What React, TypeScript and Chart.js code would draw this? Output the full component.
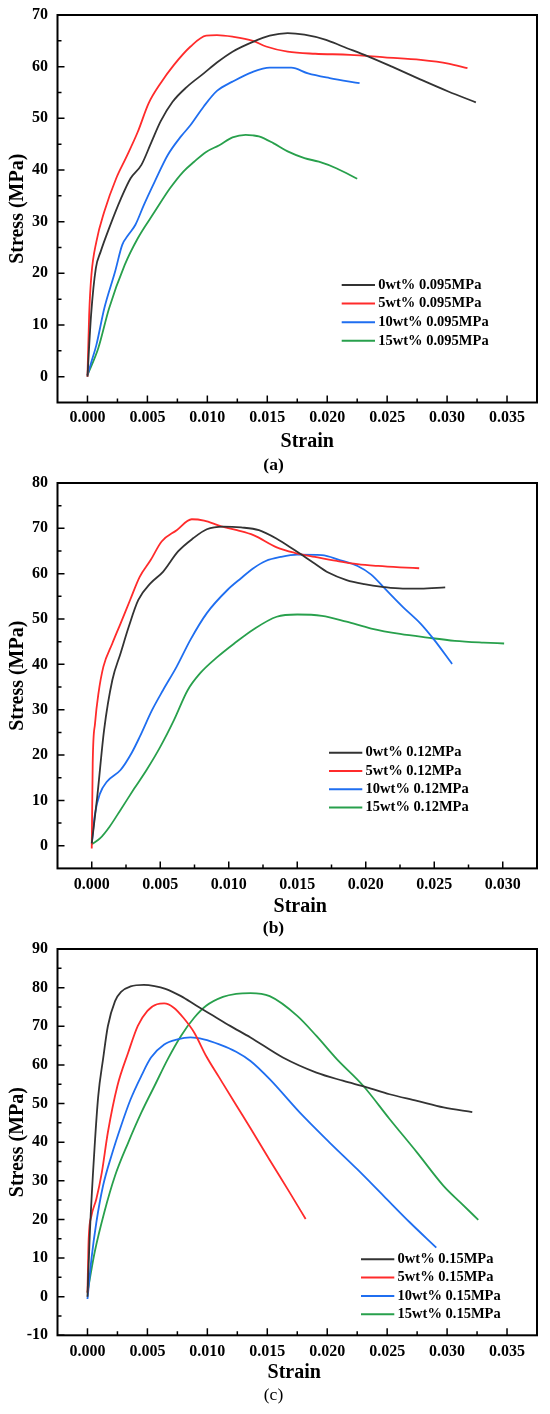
import { useEffect, useRef } from "react"
import Chart from "chart.js/auto"

// ---- data ----
const seriesColors = ["#333333", "#ff2b2b", "#1f6ef0", "#28a04c"]

const labelsA = ["0wt% 0.095MPa", "5wt% 0.095MPa", "10wt% 0.095MPa", "15wt% 0.095MPa"]
const labelsB = ["0wt% 0.12MPa", "5wt% 0.12MPa", "10wt% 0.12MPa", "15wt% 0.12MPa"]
const labelsC = ["0wt% 0.15MPa", "5wt% 0.15MPa", "10wt% 0.15MPa", "15wt% 0.15MPa"]

const strainTicksA = [0, 0.005, 0.01, 0.015, 0.02, 0.025, 0.03, 0.035]
const stressTicksA = [0, 10, 20, 30, 40, 50, 60, 70]
const strainTicksB = [0, 0.005, 0.01, 0.015, 0.02, 0.025, 0.03]
const stressTicksB = [0, 10, 20, 30, 40, 50, 60, 70, 80]
const strainTicksC = [0, 0.005, 0.01, 0.015, 0.02, 0.025, 0.03, 0.035]
const stressTicksC = [-10, 0, 10, 20, 30, 40, 50, 60, 70, 80, 90]

// (a) 0.095 MPa
const strainA0 = [0, 0.0003, 0.0007, 0.0011, 0.0018, 0.0028, 0.0036, 0.0045, 0.0053, 0.0061, 0.0071, 0.0083, 0.0097, 0.0108, 0.0121, 0.0138, 0.0152, 0.0167, 0.0181, 0.0199, 0.0213, 0.0234, 0.0254, 0.0278, 0.0301, 0.0324]
const stressA0 = [0, 11.9, 21, 24.2, 28.7, 34.5, 38.4, 41, 45.2, 49.4, 53.2, 56.1, 58.7, 60.8, 62.9, 64.8, 66, 66.5, 66.2, 65.2, 63.9, 62, 60, 57.5, 55.2, 53.1]
const strainA5 = [0, 0.00014, 0.00033, 0.00074, 0.0014, 0.0024, 0.0032, 0.0042, 0.0051, 0.0061, 0.0072, 0.0086, 0.0099, 0.0108, 0.0121, 0.0138, 0.0149, 0.0167, 0.019, 0.0219, 0.0248, 0.0278, 0.0301, 0.0317]
const stressA5 = [0, 11.9, 19.7, 26.1, 31.9, 38.4, 42.3, 47.4, 52.9, 56.8, 60.3, 63.9, 66, 66.1, 65.8, 65, 63.9, 62.9, 62.5, 62.3, 61.8, 61.3, 60.6, 59.7]
const strainA10 = [0, 0.00033, 0.00074, 0.0014, 0.0023, 0.0029, 0.0034, 0.004, 0.0047, 0.0056, 0.0067, 0.0078, 0.0086, 0.0097, 0.0108, 0.0121, 0.0138, 0.0152, 0.017, 0.0184, 0.0202, 0.0227]
const stressA10 = [0.3, 2.9, 6.1, 13.2, 20.3, 25.5, 27.4, 29.4, 33.2, 37.7, 42.9, 46.5, 48.7, 52.3, 55.3, 57.1, 59, 59.8, 59.8, 58.7, 57.8, 56.8]
const strainA15 = [0, 0.0009, 0.0018, 0.0031, 0.0042, 0.0056, 0.0069, 0.008, 0.0089, 0.0099, 0.011, 0.0121, 0.0132, 0.0138, 0.0143, 0.0155, 0.0167, 0.0181, 0.0193, 0.0208, 0.0225]
const stressA15 = [0.3, 5.5, 13.2, 21.6, 26.8, 31.9, 36.5, 39.7, 41.6, 43.5, 44.8, 46.3, 46.8, 46.7, 46.5, 45.2, 43.6, 42.3, 41.6, 40.3, 38.3]

// (b) 0.12 MPa
const strainB0 = [0, 0.0004, 0.0009, 0.0015, 0.0021, 0.0027, 0.0034, 0.0043, 0.0052, 0.0063, 0.0074, 0.0084, 0.0096, 0.0109, 0.0122, 0.0135, 0.0148, 0.0161, 0.0173, 0.0186, 0.0199, 0.0212, 0.0227, 0.024, 0.0258]
const stressB0 = [0.5, 10.8, 25.5, 36.5, 42.4, 48.3, 54.2, 57.9, 60.4, 64.9, 67.8, 69.8, 70.4, 70.2, 69.6, 67.7, 65.2, 62.6, 60.2, 58.6, 57.7, 57.1, 56.7, 56.7, 57]
const strainB5 = [0, 0.00007, 0.00024, 0.00049, 0.00085, 0.0015, 0.0021, 0.0028, 0.0035, 0.0043, 0.0051, 0.0062, 0.0073, 0.0082, 0.0094, 0.0106, 0.0118, 0.0135, 0.0148, 0.0163, 0.0179, 0.0194, 0.0209, 0.0225, 0.0239]
const stressB5 = [-0.6, 18.2, 27, 33.6, 39.5, 44.6, 49, 54.2, 59.3, 63, 67.1, 69.6, 72, 71.7, 70.5, 69.6, 68.5, 65.8, 64.6, 63.7, 62.8, 62.1, 61.7, 61.4, 61.2]
const strainB10 = [0, 0.00024, 0.0006, 0.0011, 0.0021, 0.0029, 0.0035, 0.0044, 0.0052, 0.0062, 0.0072, 0.0084, 0.0099, 0.0109, 0.0118, 0.0127, 0.0138, 0.015, 0.0168, 0.0181, 0.0194, 0.0204, 0.0214, 0.0227, 0.024, 0.025, 0.0263]
const stressB10 = [0.5, 7.1, 11.5, 14.1, 16.7, 20.4, 24, 29.9, 34.3, 39.5, 45.4, 51.3, 56.4, 59, 61.2, 62.8, 63.7, 64.2, 64.1, 63, 61.7, 59.8, 56.7, 52.7, 49, 45.4, 40.1]
const strainB15 = [0, 0.0006, 0.0013, 0.0021, 0.0031, 0.004, 0.005, 0.006, 0.007, 0.0079, 0.0092, 0.0104, 0.0118, 0.0135, 0.015, 0.0168, 0.0186, 0.0204, 0.0225, 0.0245, 0.0265, 0.0286, 0.0301]
const stressB15 = [0.3, 1.6, 4.2, 7.9, 12.6, 16.7, 21.8, 27.7, 34.3, 38, 41.7, 44.6, 47.7, 50.5, 51, 50.7, 49.4, 47.9, 46.7, 45.9, 45.2, 44.8, 44.6]

// (c) 0.15 MPa
const strainC0 = [0, 0.0002, 0.0006, 0.0009, 0.0013, 0.0017, 0.0023, 0.0028, 0.0036, 0.0047, 0.0056, 0.0065, 0.0078, 0.0091, 0.0105, 0.0119, 0.0136, 0.0163, 0.0191, 0.0213, 0.0233, 0.0252, 0.0275, 0.0297, 0.0321]
const stressC0 = [0, 16.6, 39, 52, 61.5, 70, 76.5, 78.9, 80.3, 80.7, 80.4, 79.7, 77.8, 75.3, 72.7, 70.1, 67.1, 61.9, 58, 55.9, 54.2, 52.4, 50.7, 49, 47.8]
const strainC5 = [0, 0.0001, 0.00033, 0.00074, 0.0012, 0.0017, 0.0025, 0.0034, 0.0042, 0.005, 0.0058, 0.0064, 0.0072, 0.008, 0.0089, 0.0099, 0.011, 0.0124, 0.0136, 0.0152, 0.0169, 0.0182]
const stressC5 = [1, 14.9, 20.9, 25.3, 32.2, 42.5, 54.6, 63.2, 70.1, 74, 75.7, 75.9, 74.8, 72.2, 68.4, 62.3, 56.7, 49.6, 43.6, 35.4, 26.8, 20.1]
const strainC10 = [0, 0.00033, 0.00074, 0.0013, 0.002, 0.0028, 0.0036, 0.0045, 0.0053, 0.0064, 0.0075, 0.0086, 0.0097, 0.011, 0.0124, 0.0136, 0.0152, 0.0177, 0.0202, 0.0225, 0.0247, 0.0269, 0.0291]
const stressC10 = [-0.6, 9.7, 19.2, 28.7, 36.5, 44.2, 51.1, 57.2, 61.9, 65.3, 66.6, 67.1, 66.6, 65.3, 63.4, 61, 56.3, 47.7, 39.9, 33, 26.1, 19.2, 12.7]
const strainC15 = [0, 0.0006, 0.0014, 0.0023, 0.0034, 0.0045, 0.0056, 0.0067, 0.0078, 0.0089, 0.0099, 0.0113, 0.0124, 0.0136, 0.0152, 0.0175, 0.0191, 0.0208, 0.023, 0.0252, 0.0275, 0.0297, 0.0311, 0.0326]
const stressC15 = [1.1, 11.5, 21.8, 31.3, 39.9, 47.7, 54.6, 61.5, 67.5, 72.2, 75.3, 77.6, 78.4, 78.6, 77.8, 72.7, 67.5, 61.5, 54.6, 46, 37.3, 28.7, 24.4, 19.9]

const FONT = "'Liberation Serif', 'Times New Roman', serif"

type PanelDef = {
  top: number
  height: number
  padTop: number
  xAxisH: number
  xTickPad: number
  xMin: number
  xMax: number
  yMin: number
  yMax: number
  xTicks: number[]
  yTicks: number[]
  strains: number[][]
  stresses: number[][]
  labels: string[]
  caption: string
  captionBold: boolean
  legend: { x: number; y: number; gap: number }
  titleDx: number
  titleDy: number
  captionDy: number
}

const panels: PanelDef[] = [
  {
    top: 0, height: 480, padTop: 15, xAxisH: 77.5, xTickPad: 6.5,
    xMin: -0.0025, xMax: 0.0375, yMin: -5, yMax: 70,
    xTicks: strainTicksA, yTicks: stressTicksA,
    strains: [strainA0, strainA5, strainA10, strainA15],
    stresses: [stressA0, stressA5, stressA10, stressA15],
    labels: labelsA, caption: "(a)", captionBold: true,
    legend: { x: 284.2, y: 270, gap: 18.6 }, titleDx: 10, titleDy: 39, captionDy: 62.5,
  },
  {
    top: 465, height: 475, padTop: 18, xAxisH: 71.6, xTickPad: 7.5,
    xMin: -0.0025, xMax: 0.0325, yMin: -5, yMax: 80,
    xTicks: strainTicksB, yTicks: stressTicksB,
    strains: [strainB0, strainB5, strainB10, strainB15],
    stresses: [stressB0, stressB5, stressB10, stressB15],
    labels: labelsB, caption: "(b)", captionBold: true,
    legend: { x: 271.5, y: 269.7, gap: 18.3 }, titleDx: 3, titleDy: 38.3, captionDy: 60,
  },
  {
    top: 930, height: 484, padTop: 19, xAxisH: 78.7, xTickPad: 7.5,
    xMin: -0.0025, xMax: 0.0375, yMin: -10, yMax: 90,
    xTicks: strainTicksC, yTicks: stressTicksC,
    strains: [strainC0, strainC5, strainC10, strainC15],
    stresses: [stressC0, stressC5, stressC10, stressC15],
    labels: labelsC, caption: "(c)", captionBold: false,
    legend: { x: 303.5, y: 310.3, gap: 18.3 }, titleDx: -3, titleDy: 38, captionDy: 60,
  },
]

// frame, inward ticks, in-plot legend, x title and caption
const framePlugin = {
  id: "frame",
  afterDraw(chart: any, _args: any, opts: any) {
    const { ctx, chartArea: a, scales } = chart
    const xs = scales.x
    const ys = scales.y
    ctx.save()

    const mids = (t: number[]) => t.slice(1).map((v, i) => (v + t[i]) / 2)

    ctx.strokeStyle = "#000"
    ctx.lineWidth = 1.5
    ctx.beginPath()
    for (const v of opts.xTicks) {
      const p = xs.getPixelForValue(v)
      ctx.moveTo(p, a.bottom)
      ctx.lineTo(p, a.bottom - 7)
    }
    for (const v of mids(opts.xTicks)) {
      const p = xs.getPixelForValue(v)
      ctx.moveTo(p, a.bottom)
      ctx.lineTo(p, a.bottom - 4)
    }
    for (const v of opts.yTicks) {
      const p = ys.getPixelForValue(v)
      ctx.moveTo(a.left, p)
      ctx.lineTo(a.left + 7, p)
    }
    for (const v of mids(opts.yTicks)) {
      const p = ys.getPixelForValue(v)
      ctx.moveTo(a.left, p)
      ctx.lineTo(a.left + 4, p)
    }
    ctx.stroke()

    ctx.lineWidth = 2
    ctx.strokeRect(a.left, a.top, a.right - a.left, a.bottom - a.top)

    // legend
    ctx.textBaseline = "middle"
    ctx.textAlign = "left"
    ctx.font = `bold 14.5px ${FONT}`
    chart.data.datasets.forEach((ds: any, i: number) => {
      const lx = a.left + opts.legend.x
      const ly = a.top + opts.legend.y + i * opts.legend.gap
      ctx.strokeStyle = ds.borderColor
      ctx.lineWidth = 2
      ctx.beginPath()
      ctx.moveTo(lx, ly)
      ctx.lineTo(lx + 33.3, ly)
      ctx.stroke()
      ctx.fillStyle = "#000"
      ctx.fillText(ds.label, lx + 36.6, ly)
    })

    // x axis title
    ctx.textAlign = "center"
    ctx.font = `bold 20px ${FONT}`
    ctx.fillText("Strain", (a.left + a.right) / 2 + opts.titleDx, a.bottom + opts.titleDy)

    // caption
    ctx.font = `${opts.captionBold ? "bold " : ""}17.5px ${FONT}`
    ctx.fillText(opts.caption, 273.5, a.bottom + opts.captionDy)

    ctx.restore()
  },
}

function Panel({ def }: { def: PanelDef }) {
  const canvasRef = useRef<HTMLCanvasElement | null>(null)

  useEffect(() => {
    if (!canvasRef.current) return

    const datasets = def.strains.map((strain, k) => ({
      label: def.labels[k],
      data: strain.map((x, i) => ({ x, y: def.stresses[k][i] })),
      borderColor: seriesColors[k],
      backgroundColor: seriesColors[k],
      borderWidth: 1.8,
      showLine: true,
      pointRadius: 0,
      cubicInterpolationMode: "monotone" as const,
      fill: false,
    }))

    const chart = new Chart(canvasRef.current, {
      type: "scatter",
      data: { datasets },
      plugins: [framePlugin],
      options: {
        animation: false,
        responsive: false,
        layout: { padding: { top: def.padTop, right: 13, bottom: 0, left: 0 } },
        plugins: {
          legend: { display: false },
          tooltip: { enabled: false },
          frame: {
            xTicks: def.xTicks,
            yTicks: def.yTicks,
            legend: def.legend,
            caption: def.caption,
            captionBold: def.captionBold,
            titleDx: def.titleDx,
            titleDy: def.titleDy,
            captionDy: def.captionDy,
          },
        } as any,
        scales: {
          x: {
            type: "linear",
            min: def.xMin,
            max: def.xMax,
            grid: { display: false, drawTicks: false },
            border: { display: false },
            afterBuildTicks: (s: any) => {
              s.ticks = def.xTicks.map((value) => ({ value }))
            },
            afterFit: (s: any) => {
              s.height = def.xAxisH
              s.paddingLeft = 0
              s.paddingRight = 0
            },
            ticks: {
              padding: def.xTickPad - 0.5,
              color: "#000",
              maxRotation: 0,
              autoSkip: false,
              font: { family: FONT, size: 16, weight: "bold" },
              callback: (v: any) => Number(v).toFixed(3),
            },
          },
          y: {
            type: "linear",
            min: def.yMin,
            max: def.yMax,
            grid: { display: false, drawTicks: false },
            border: { display: false },
            afterBuildTicks: (s: any) => {
              s.ticks = def.yTicks.map((value) => ({ value }))
            },
            afterFit: (s: any) => {
              s.width = 57.5
              s.paddingTop = 0
              s.paddingBottom = 0
            },
            title: {
              display: true,
              text: "Stress (MPa)",
              color: "#000",
              font: { family: FONT, size: 20, weight: "bold" },
              padding: { top: 5.5, bottom: 0 },
            },
            ticks: {
              padding: 9.5,
              color: "#000",
              autoSkip: false,
              font: { family: FONT, size: 16, weight: "bold" },
              callback: (v: any) => String(v),
            },
          },
        },
      },
    })

    return () => chart.destroy()
  }, [def])

  return (
    <canvas
      ref={canvasRef}
      width={550}
      height={def.height}
      style={{ position: "absolute", left: 0, top: def.top, width: 550, height: def.height }}
    />
  )
}

export default function App() {
  return (
    <div
      style={{
        position: "absolute",
        left: 0,
        top: 0,
        width: 550,
        height: 1414,
        background: "#fff",
        overflow: "hidden",
      }}
    >
      {panels.map((p) => (
        <Panel key={p.caption} def={p} />
      ))}
    </div>
  )
}
